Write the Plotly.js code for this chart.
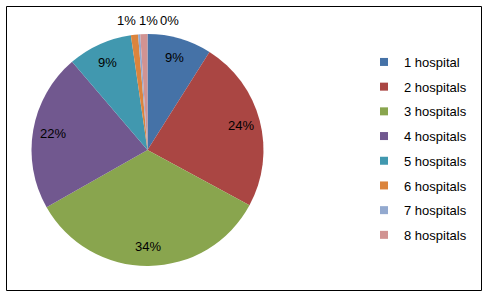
<!DOCTYPE html>
<html>
<head>
<meta charset="utf-8">
<script src="https://cdn.plot.ly/plotly-3.0.1.min.js"></script>
<style>
html,body{margin:0;padding:0;background:#fff;}
#chart{width:487px;height:299px;}
</style>
</head>
<body>
<div id="chart"></div>
<script>
var categories = ['1 hospital','2 hospitals','3 hospitals','4 hospitals','5 hospitals','6 hospitals','7 hospitals','8 hospitals'];
var values = [9, 24, 34, 22, 9, 1, 0.3, 1];
var colors = ['#4572A7','#AA4643','#89A54E','#71588F','#4198AF','#DB843D','#93A9CF','#D19392'];
var smallLabelOrder = [5, 7, 6]; // slices labelled above the pie, left to right

var FONT = '"Liberation Sans Narrow", "Arial Narrow", "Liberation Sans", Arial, sans-serif';
var W = 487, H = 299;
var cx = 147.5, cy = 150, R = 116;
var total = values.reduce(function(a,b){return a+b;},0);
var pct = values.map(function(v){return Math.round(v/total*100)+'%';});

var traces = [{
  type: 'pie',
  labels: categories,
  values: values,
  sort: false,
  direction: 'clockwise',
  rotation: 0,
  marker: {colors: colors, line: {width: 0}},
  textinfo: 'none',
  domain: {x: [(cx-R)/W, (cx+R)/W], y: [(H-cy-R)/H, (H-cy+R)/H]},
  showlegend: false,
  hoverinfo: 'label+percent'
}];
categories.forEach(function(c, i){
  traces.push({
    type: 'scatter', x: [null], y: [null], mode: 'markers', name: c,
    legendgroup: 'g'+i,
    marker: {symbol: 'square', size: 8, color: colors[i]},
    showlegend: true, hoverinfo: 'skip'
  });
});

// data labels for the larger slices, at their mid-angle
var annotations = [];
var cum = 0;
values.forEach(function(v, i){
  var mid = (cum + v/2) / total * 2 * Math.PI;
  cum += v;
  if (v/total < 0.03) return;
  var k = 0.83;
  annotations.push({
    text: pct[i], xref: 'paper', yref: 'paper',
    x: (cx + k*R*Math.sin(mid))/W, y: 1 - (cy - k*R*Math.cos(mid))/H,
    showarrow: false, xanchor: 'center', yanchor: 'middle',
    font: {family: FONT, size: 13, color: '#000'}
  });
});
smallLabelOrder.forEach(function(idx, k){
  annotations.push({
    text: pct[idx], xref: 'paper', yref: 'paper',
    x: (126.5 + k*21.5)/W, y: 1 - 21/H, showarrow: false,
    xanchor: 'center', yanchor: 'middle',
    font: {family: FONT, size: 13, color: '#000'}
  });
});

var layout = {
  width: W, height: H,
  margin: {l: 0, r: 0, t: 0, b: 0},
  paper_bgcolor: '#fff', plot_bgcolor: 'rgba(0,0,0,0)',
  xaxis: {visible: false, domain: [0.99, 1]},
  yaxis: {visible: false, domain: [0.99, 1]},
  showlegend: true,
  legend: {
    x: 364/W, y: 1 - 47/H, xanchor: 'left', yanchor: 'top',
    traceorder: 'grouped', tracegroupgap: 4.8,
    font: {family: FONT, size: 13, color: '#000'},
    bgcolor: 'rgba(0,0,0,0)', borderwidth: 0
  },
  shapes: [{
    type: 'rect', xref: 'paper', yref: 'paper',
    x0: 6.5/W, x1: 481.5/W, y0: 1 - 290.5/H, y1: 1 - 6.5/H,
    line: {color: '#000', width: 1}
  }],
  annotations: annotations
};

Plotly.newPlot('chart', traces, layout, {displayModeBar: false, staticPlot: true});
</script>
</body>
</html>
